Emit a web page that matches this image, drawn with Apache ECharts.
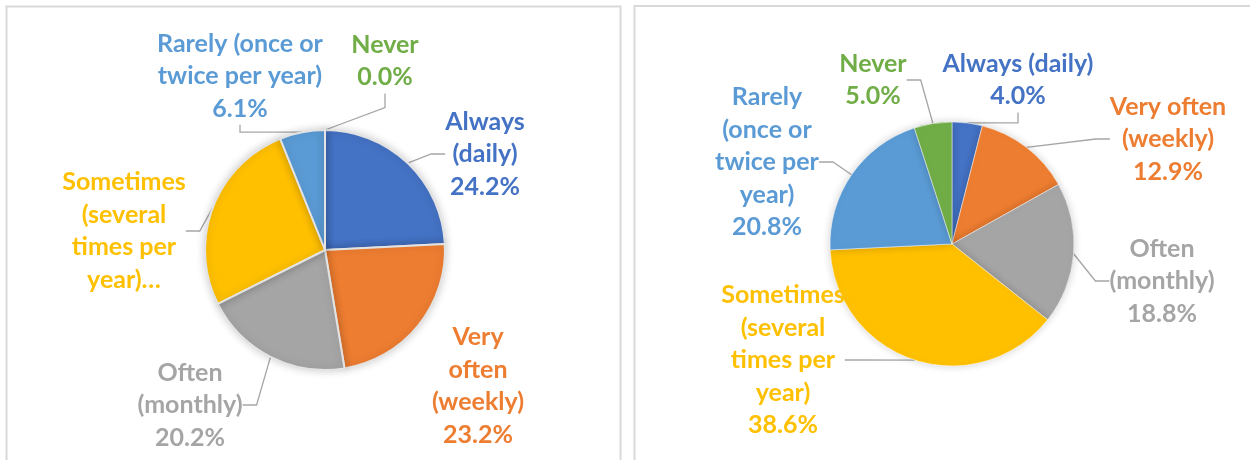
<!DOCTYPE html>
<html>
<head>
    <meta charset="UTF-8">
    <title>Frequency pies</title>
    <script src="https://cdn.jsdelivr.net/npm/echarts@6/dist/echarts.min.js"></script>
    <style>
        html, body { margin: 0; padding: 0; background: #fff; }
    </style>
</head>
<body>
<div id="container" style="width: 1250px; height: 460px;"></div>
<script>

    // categories, same order in both pies (clockwise from 12 o'clock)
    var categories = ['Always (daily)', 'Very often (weekly)', 'Often (monthly)',
        'Sometimes (several times per year)', 'Rarely (once or twice per year)', 'Never'];

    // percentages
    var leftValues = [24.2, 23.2, 20.2, 26.3, 6.1, 0.0];
    var rightValues = [4.0, 12.9, 18.8, 38.6, 20.8, 5.0];

    // how Excel wrapped the label text in each chart
    // (left "Sometimes" label got cut off by Excel, percent is hidden there)
    var leftLabels = ['Always\n(daily)', 'Very\noften\n(weekly)', 'Often\n(monthly)',
        'Sometimes\n(several\ntimes per\nyear)…', 'Rarely (once or\ntwice per year)', 'Never'];
    var rightLabels = ['Always (daily)', 'Very often\n(weekly)', 'Often\n(monthly)',
        'Sometimes\n(several\ntimes per\nyear)', 'Rarely\n(once or\ntwice per\nyear)', 'Never'];

    var colors = ['#4472C4', '#ED7D31', '#A5A5A5', '#FFC000', '#5B9BD5', '#70AD47'];

    // where the label blocks sit (centre of each block)
    var leftLabelPos = [[485, 154], [478, 386], [190, 405], [124, 231], [240, 76], [385, 61]];
    var rightLabelPos = [[1018, 80], [1168, 139], [1162, 281], [783, 360], [767, 162], [873, 80]];

    // labels that sit close enough that Excel drew no leader line
    var leftNoLine = [1];
    var rightNoLine = [];

    function buildData(values, noLine) {
        var out = [];
        for (var i = 0; i < values.length; i++) {
            var item = { name: categories[i], value: values[i], label: { color: colors[i] } };
            if (noLine.indexOf(i) >= 0) item.labelLine = { show: false };
            out.push(item);
        }
        return out;
    }

    function pieSeries(values, labels, pos, noLine, center, radius, border) {
        return {
            type: 'pie',
            center: center,
            radius: radius,
            startAngle: 90,
            clockwise: true,
            animation: false,
            data: buildData(values, noLine),
            itemStyle: {
                borderColor: border.color,
                borderWidth: border.width,
                shadowBlur: 8,
                shadowColor: 'rgba(0,0,0,0.18)'
            },
            label: {
                show: true,
                position: 'outside',
                fontFamily: 'Lato',
                fontWeight: 'bold',
                fontSize: 25,
                lineHeight: 32.5,
                align: 'center',
                formatter: function (p) {
                    var txt = labels[p.dataIndex];
                    if (txt.charAt(txt.length - 1) === '…') return txt;
                    return txt + '\n' + p.value.toFixed(1) + '%';
                }
            },
            labelLine: {
                show: true,
                length: 14,
                length2: 14,
                lineStyle: { color: '#a6a6a6', width: 1.3 }
            },
            labelLayout: function (p) {
                var xy = pos[p.dataIndex];
                return { x: xy[0], y: xy[1], align: 'center', verticalAlign: 'middle' };
            },
            emphasis: { disabled: true }
        };
    }

    var mychart = echarts.init(document.getElementById('container'));

    var option = {
        backgroundColor: '#fff',
        color: colors,
        graphic: [
            { type: 'rect', shape: { x: 6.5, y: 6.5, width: 614, height: 480 },
              style: { fill: 'none', stroke: '#d9d9d9', lineWidth: 2 } },
            { type: 'rect', shape: { x: 634.5, y: 6, width: 640, height: 480 },
              style: { fill: 'none', stroke: '#d9d9d9', lineWidth: 2 } }
        ],
        series: [
            pieSeries(leftValues, leftLabels, leftLabelPos, leftNoLine, [325, 250], 120, { color: '#e3e3e3', width: 2 }),
            pieSeries(rightValues, rightLabels, rightLabelPos, rightNoLine, [952, 244], 122, { color: '#fff', width: 0.5 })
        ]
    };

    mychart.setOption(option);

</script>
</body>
</html>
